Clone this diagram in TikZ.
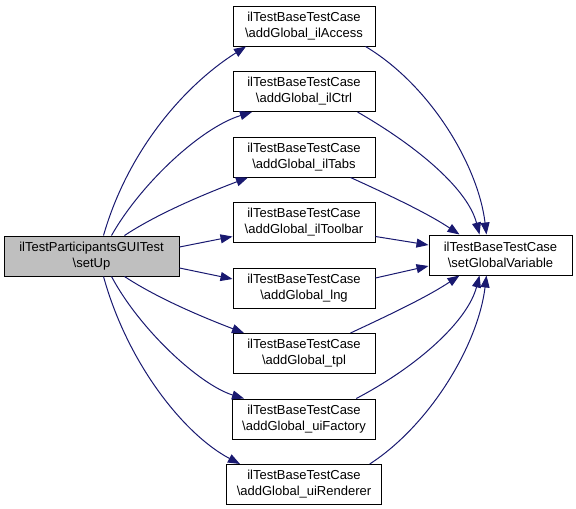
\documentclass[tikz,border=0pt]{standalone}
\usepackage{fontspec}
\setmainfont{Liberation Sans}
\usetikzlibrary{arrows.meta}
\definecolor{edgeblue}{RGB}{25,25,112}
\definecolor{nodegray}{RGB}{191,191,191}
\begin{document}
\begin{tikzpicture}[x=1pt,y=-1pt,
  box/.style={draw=black, line width=1pt, fill=white, minimum height=40pt, minimum width=142pt,
    inner xsep=10pt, inner ysep=2pt, align=center, font=\fontsize{13}{16}\selectfont},
  edge/.style={draw=edgeblue, line width=1pt, -{Triangle[length=12pt,width=9pt]}}]
\useasboundingbox (0,0) rectangle (576,509);
\node[box, fill=nodegray, minimum width=175pt] (su) at (91.5,256) {ilTestParticipantsGUITest\\\textbackslash setUp};
\node[box] (a1) at (304,26) {ilTestBaseTestCase\\\textbackslash addGlobal\_ilAccess};
\node[box] (a2) at (304,91.5) {ilTestBaseTestCase\\\textbackslash addGlobal\_ilCtrl};
\node[box] (a3) at (304,157) {ilTestBaseTestCase\\\textbackslash addGlobal\_ilTabs};
\node[box] (a4) at (304,222.5) {ilTestBaseTestCase\\\textbackslash addGlobal\_ilToolbar};
\node[box] (a5) at (304,288) {ilTestBaseTestCase\\\textbackslash addGlobal\_lng};
\node[box] (a6) at (304,353.5) {ilTestBaseTestCase\\\textbackslash addGlobal\_tpl};
\node[box] (a7) at (304,419) {ilTestBaseTestCase\\\textbackslash addGlobal\_uiFactory};
\node[box] (a8) at (304,484.5) {ilTestBaseTestCase\\\textbackslash addGlobal\_uiRenderer};
\node[box, minimum width=143pt] (sg) at (500.5,255) {ilTestBaseTestCase\\\textbackslash setGlobalVariable};
% left edges
\draw[edge] ([xshift=12pt]su.north) .. controls (128,150) and (185,85) .. ([xshift=-58pt]a1.south);
\draw[edge] ([xshift=20pt]su.north) .. controls (140,185) and (200,128) .. ([xshift=-52pt]a2.south);
\draw[edge] ([xshift=33pt]su.north) .. controls (160,212) and (210,192) .. ([xshift=-56pt]a3.south);
\draw[edge] ([yshift=9pt]su.east) -- ([yshift=-14pt]a4.west);
\draw[edge] ([yshift=-12pt]su.east) -- ([yshift=9pt]a5.west);
\draw[edge] ([xshift=33pt]su.south) .. controls (160,300) and (210,320) .. ([xshift=-60pt]a6.north);
\draw[edge] ([xshift=20pt]su.south) .. controls (140,330) and (200,385) .. ([xshift=-60pt]a7.north);
\draw[edge] ([xshift=12pt]su.south) .. controls (128,365) and (185,435) .. ([xshift=-64pt]a8.north);
% right edges
\draw[edge] ([xshift=-10pt]a1.south east) .. controls (430,85) and (478,165) .. ([xshift=-14pt]sg.north);
\draw[edge] ([xshift=-18pt]a2.south east) .. controls (420,148) and (468,190) .. ([xshift=-21pt]sg.north);
\draw[edge] ([xshift=-25pt]a3.south east) .. controls (400,200) and (430,215) .. ([xshift=-41pt]sg.north);
\draw[edge] ([yshift=-14pt]a4.east) -- ([yshift=10pt]sg.west);
\draw[edge] ([yshift=10pt]a5.east) -- ([yshift=-11pt]sg.west);
\draw[edge] ([xshift=-25pt]a6.north east) .. controls (400,310) and (430,295) .. ([xshift=-41pt]sg.south);
\draw[edge] ([xshift=-20pt]a7.north east) .. controls (420,365) and (468,320) .. ([xshift=-21pt]sg.south);
\draw[edge] ([xshift=-12pt]a8.north east) .. controls (430,425) and (478,345) .. ([xshift=-14pt]sg.south);
\end{tikzpicture}
\end{document}
